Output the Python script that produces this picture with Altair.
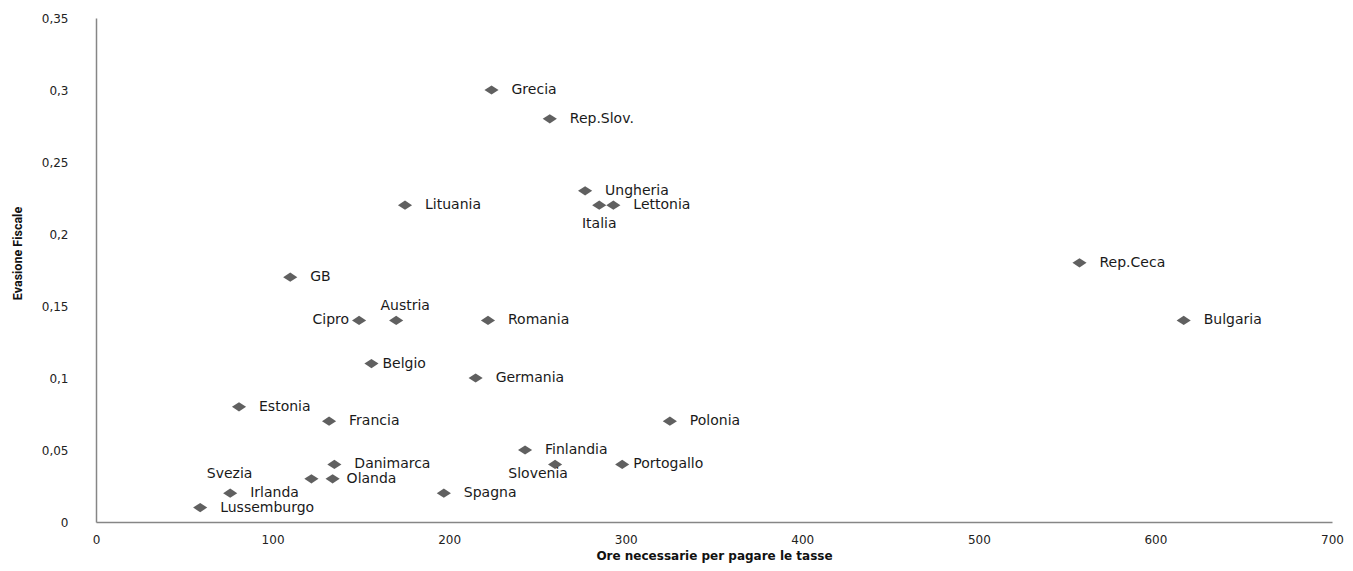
import altair as alt
import pandas as pd

paesi = ["Grecia", "Rep.Slov.", "Ungheria", "Italia", "Lettonia", "Lituania",
         "Rep.Ceca", "GB", "Bulgaria", "Cipro", "Austria", "Romania", "Belgio",
         "Germania", "Estonia", "Francia", "Polonia", "Finlandia", "Slovenia",
         "Portogallo", "Danimarca", "Svezia", "Olanda", "Irlanda", "Spagna",
         "Lussemburgo"]
ore = [224, 257, 277, 285, 293, 175, 557, 110, 616, 149, 170, 222, 156,
       215, 81, 132, 325, 243, 260, 298, 135, 122, 134, 76, 197, 59]
evasione = [0.30, 0.28, 0.23, 0.22, 0.22, 0.22, 0.18, 0.17, 0.14, 0.14, 0.14,
            0.14, 0.11, 0.10, 0.08, 0.07, 0.07, 0.05, 0.04, 0.04, 0.04, 0.03,
            0.03, 0.02, 0.02, 0.01]
x_ticks = [0, 100, 200, 300, 400, 500, 600, 700]
y_ticks = [0, 0.05, 0.1, 0.15, 0.2, 0.25, 0.3, 0.35]

df = pd.DataFrame({"Paese": paesi, "Ore": ore, "Evasione": evasione})

FONT = "DejaVu Sans"
GREY = "#606060"

x = alt.X("Ore:Q", scale=alt.Scale(domain=[0, 700], nice=False),
          axis=alt.Axis(title="Ore necessarie  per pagare  le tasse", values=x_ticks,
                        grid=False, ticks=False, domainColor="#868686", domainWidth=1.5,
                        labelFlush=False,
                        labelFont=FONT, labelFontSize=12, labelColor="#222222", labelPadding=12,
                        titleFont=FONT, titleFontSize=12, titleFontWeight="bold",
                        titleColor="#111111", titleY=28, titleBaseline="top"))
y = alt.Y("Evasione:Q", scale=alt.Scale(domain=[0, 0.35], nice=False),
          axis=alt.Axis(title="Evasione Fiscale", values=y_ticks,
                        labelExpr="replace(toString(datum.value), '.', ',')",
                        grid=False, ticks=False, domainColor="#868686", domainWidth=1.5,
                        labelFlush=False,
                        labelFont=FONT, labelFontSize=12, labelColor="#222222", labelPadding=28,
                        titleFont="Roboto", titleFontSize=12.5, titleFontWeight="bold",
                        titleColor="#111111", titleX=-79, titleY=235, titleAngle=270,
                        titleBaseline="middle", titleAlign="center"))

base = alt.Chart(df).encode(x=x, y=y)

points = base.mark_point(shape="M-1,0L0,-0.65L1,0L0,0.65Z", size=200, filled=True,
                         color=GREY, opacity=1)

special = ["Italia", "Austria", "Cipro", "Svezia", "Slovenia", "Belgio", "Olanda", "Portogallo"]

def lab(names, **kw):
    return base.transform_filter(
        alt.FieldOneOfPredicate(field="Paese", oneOf=names)
    ).mark_text(font=FONT, fontSize=14, color="#1a1a1a", baseline="middle", **kw).encode(text="Paese:N")

default_names = [p for p in paesi if p not in special]
labels = [
    lab(default_names, align="left", dx=20),
    lab(["Italia"], align="center", dy=19),
    lab(["Austria"], align="center", dx=9, dy=-14),
    lab(["Cipro"], align="right", dx=-10),
    lab(["Svezia"], align="right", dx=-59, dy=-5),
    lab(["Slovenia"], align="center", dx=-17, dy=10),
    lab(["Belgio", "Portogallo"], align="left", dx=11),
    lab(["Olanda"], align="left", dx=14),
]

chart = alt.layer(points, *labels).properties(
    width=1236, height=504,
    autosize=alt.AutoSizeParams(type="none"),
    padding={"left": 88, "top": 10, "right": 13, "bottom": 41},
).configure(background="white").configure_view(stroke=None)

chart.save("out.html", embed_options={"renderer": "svg", "actions": False})
